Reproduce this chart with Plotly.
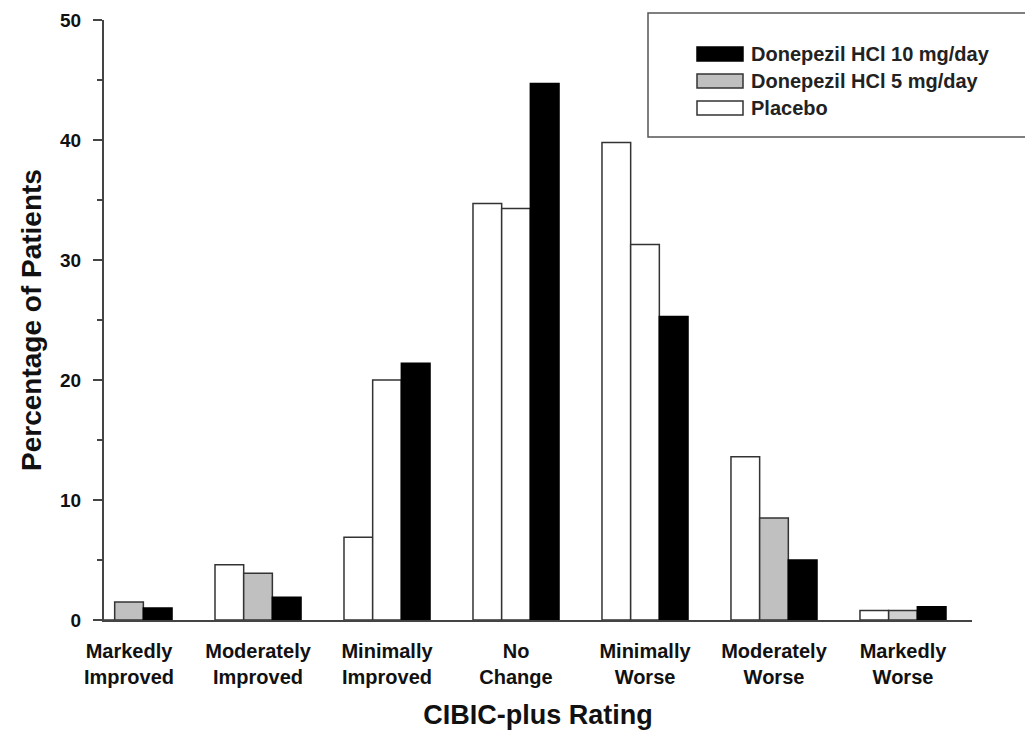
import plotly.graph_objects as go

categories = ["Markedly<br>Improved", "Moderately<br>Improved", "Minimally<br>Improved",
              "No<br>Change", "Minimally<br>Worse", "Moderately<br>Worse", "Markedly<br>Worse"]
placebo = [0.0, 4.6, 6.9, 34.7, 39.8, 13.6, 0.8]
dose5 = [1.5, 3.9, 20.0, 34.3, 31.3, 8.5, 0.8]
dose10 = [1.0, 1.9, 21.4, 44.7, 25.3, 5.0, 1.1]
dose5_colors = ["#c0c0c0", "#c0c0c0", "#ffffff", "#ffffff", "#ffffff", "#c0c0c0", "#d0d0d0"]
y_ticks = [0, 10, 20, 30, 40, 50]

FONT = "Liberation Sans, Arial, sans-serif"
xs = list(range(len(categories)))

fig = go.Figure()
fig.add_trace(go.Bar(x=xs, y=placebo, name="Placebo",
                     marker=dict(color="#ffffff", line=dict(color="#333333", width=1.5))))
fig.add_trace(go.Bar(x=xs, y=dose5, name="Donepezil HCl 5 mg/day",
                     marker=dict(color=dose5_colors, line=dict(color="#333333", width=1.5))))
fig.add_trace(go.Bar(x=xs, y=dose10, name="Donepezil HCl 10 mg/day",
                     marker=dict(color="#000000", line=dict(color="#000000", width=1.5))))

fig.update_layout(
    width=1025, height=730,
    margin=dict(l=96, r=61, t=12, b=118, autoexpand=False),
    paper_bgcolor="white", plot_bgcolor="white",
    barmode="group", bargap=0.333, bargroupgap=0,
    showlegend=False,
    font=dict(family=FONT, color="#111111"),
)
fig.update_xaxes(
    range=[-0.194, 6.535],
    tickmode="array", tickvals=xs, ticktext=[f"<b>{c}</b>" for c in categories],
    tickfont=dict(size=20, family=FONT),
    showline=True, linecolor="#444444", linewidth=2,
    ticks="", showgrid=False, zeroline=False, ticklabelstandoff=12,
    title=dict(text="<b>CIBIC-plus Rating</b>", font=dict(size=27, family=FONT), standoff=18),
)
fig.update_yaxes(
    range=[0, 50],
    tickmode="array", tickvals=y_ticks, ticktext=[f"<b>{t}</b>" for t in y_ticks],
    tickfont=dict(size=19, family=FONT),
    ticks="outside", ticklen=9, tickwidth=2, tickcolor="#444444",
    minor=dict(tickmode="array", tickvals=[5, 15, 25, 35, 45], ticks="outside", ticklen=5, tickwidth=1.5, tickcolor="#444444"),
    showline=True, linecolor="#444444", linewidth=2,
    showgrid=False, zeroline=False, ticklabelstandoff=8,
    title=dict(text="<b>Percentage of Patients</b>", font=dict(size=28, family=FONT), standoff=10),
)

# Legend box (manual, to match swatch shape)
fig.add_shape(type="rect", xref="paper", yref="paper",
              x0=(648 - 104) / 868, x1=(1030 - 104) / 868,
              y0=(620 - 137) / 600, y1=(620 - 13) / 600,
              line=dict(color="#555555", width=1.5), fillcolor="white")
legend_items = [("Donepezil HCl 10 mg/day", "#000000", "#000000"),
                ("Donepezil HCl 5 mg/day", "#c0c0c0", "#333333"),
                ("Placebo", "#ffffff", "#333333")]
for i, (label, fill, edge) in enumerate(legend_items):
    yc = 54 + 27 * i
    fig.add_shape(type="rect", xref="paper", yref="paper",
                  x0=(697 - 104) / 868, x1=(743 - 104) / 868,
                  y0=(620 - (yc + 7)) / 600, y1=(620 - (yc - 7)) / 600,
                  line=dict(color=edge, width=1.5), fillcolor=fill)
    fig.add_annotation(xref="paper", yref="paper", x=(749 - 104) / 868, y=(620 - yc) / 600,
                       text=f"<b>{label}</b>", showarrow=False, xanchor="left", yanchor="middle",
                       font=dict(size=20, family=FONT, color="#222222"))

fig.write_html("out.html")
